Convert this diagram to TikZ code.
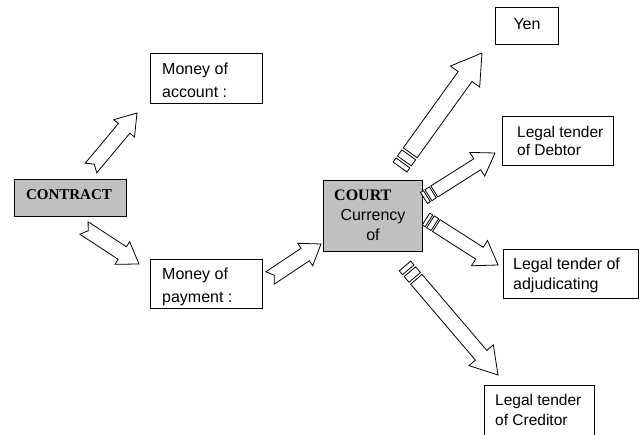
\documentclass[tikz,border=0pt]{standalone}
\usepackage{fontspec}
\setmainfont{Liberation Sans}
\newfontfamily\serifb{Liberation Serif}
\newcommand\barrow[7]{%
  \pgfpointdiff{\pgfpointanchor{#1}{center}}{\pgfpointanchor{#2}{center}}%
  \pgfgetlastxy\bdx\bdy
  \pgfmathsetmacro\bang{atan2(\bdy,\bdx)}%
  \pgfmathsetmacro\blen{veclen(\bdx,\bdy)}%
  \begin{scope}[shift={(#1)},rotate=\bang,x=1pt,y=1pt]
    \ifnum#6=0
      \draw[arr] (0,-#3) -- (\blen-#5,-#3) -- (\blen-#5,-#4) -- (\blen,0) -- (\blen-#5,#4) -- (\blen-#5,#3) -- (0,#3) -- (#7,0) -- cycle;
    \else
      \draw[arr] (0,-#3) rectangle (#7,#3);
      \draw[arr] (1.5*#7,-#3) rectangle (3*#7,#3);
      \draw[arr] (3.5*#7,-#3) -- (\blen-#5,-#3) -- (\blen-#5,-#4) -- (\blen,0) -- (\blen-#5,#4) -- (\blen-#5,#3) -- (3.5*#7,#3) -- cycle;
    \fi
  \end{scope}}
\begin{document}
\begin{tikzpicture}[x=1pt,y=-1pt,
  box/.style={draw, line width=1pt},
  graybox/.style={draw, line width=1pt, fill={rgb,255:red,192;green,192;blue,192}},
  arr/.style={draw, fill=white, line width=0.8pt, line join=miter},
  txt/.style={inner sep=0pt, align=left, font=\fontsize{16}{21}\selectfont},
  btxt/.style={inner sep=0pt, font=\serifb\bfseries\fontsize{15}{18}\selectfont}]
\clip (0,0) rectangle (640,435);
\fill[white] (0,0) rectangle (640,435);
% boxes
\draw[graybox] (14,180) rectangle (126,217);
\node[btxt] (contract) at (69,195) {CONTRACT};
\draw[box] (150,54) rectangle (262,104);
\node[txt, anchor=west, font=\fontsize{16}{23}\selectfont] (acc) at (162,80.5) {Money of\\account :};
\draw[box] (150,260) rectangle (262,309);
\node[txt, anchor=west, font=\fontsize{16}{23}\selectfont] (pay) at (162,286.5) {Money of\\payment :};
\draw[graybox] (323,181) rectangle (422,252);
\node[btxt, anchor=west, font=\serifb\bfseries\fontsize{16}{18}\selectfont] (court) at (334,195) {COURT};
\node[txt, align=center, font=\fontsize{16}{20}\selectfont] (cur) at (373,225) {Currency\\of};
\draw[box] (495,8) rectangle (558,45);
\node[txt] (yen) at (527,24) {Yen};
\draw[box] (502,117) rectangle (613,166);
\node[txt, anchor=west, font=\fontsize{15.5}{18}\selectfont] (deb) at (517,141) {Legal tender\\of Debtor};
\draw[box] (503,250) rectangle (638,299);
\node[txt, anchor=west, font=\fontsize{16}{20}\selectfont] (adj) at (513,275) {Legal tender of\\adjudicating};
\draw[box] (484,386) rectangle (594,445);
\node[txt, anchor=west, font=\fontsize{15.5}{20}\selectfont] (cred) at (495,410) {Legal tender\\of Creditor};
% arrow ends
\coordinate (a1s) at (91,168);  \coordinate (a1e) at (137,113);
\coordinate (a2s) at (84,228);  \coordinate (a2e) at (139,264);
\coordinate (a3s) at (270,278); \coordinate (a3e) at (321,244);
\coordinate (a4s) at (400,167); \coordinate (a4e) at (482,53);
\coordinate (a5s) at (424,198); \coordinate (a5e) at (495,153);
\coordinate (a6s) at (426,219); \coordinate (a6e) at (498,265);
\coordinate (a7s) at (405,266); \coordinate (a7e) at (498,375);
% arrows
\barrow{a1s}{a1e}{7.5}{13.5}{20}{0}{5}
\barrow{a2s}{a2e}{7.5}{13.5}{20}{0}{5}
\barrow{a3s}{a3e}{7.5}{13.5}{19}{0}{5}
\barrow{a4s}{a4e}{8.5}{18}{29}{1}{5}
\barrow{a5s}{a5e}{6.5}{14}{21}{1}{3.5}
\barrow{a6s}{a6e}{7}{15}{22}{1}{3.5}
\barrow{a7s}{a7e}{7.5}{16}{26}{1}{5}
\end{tikzpicture}
\end{document}
